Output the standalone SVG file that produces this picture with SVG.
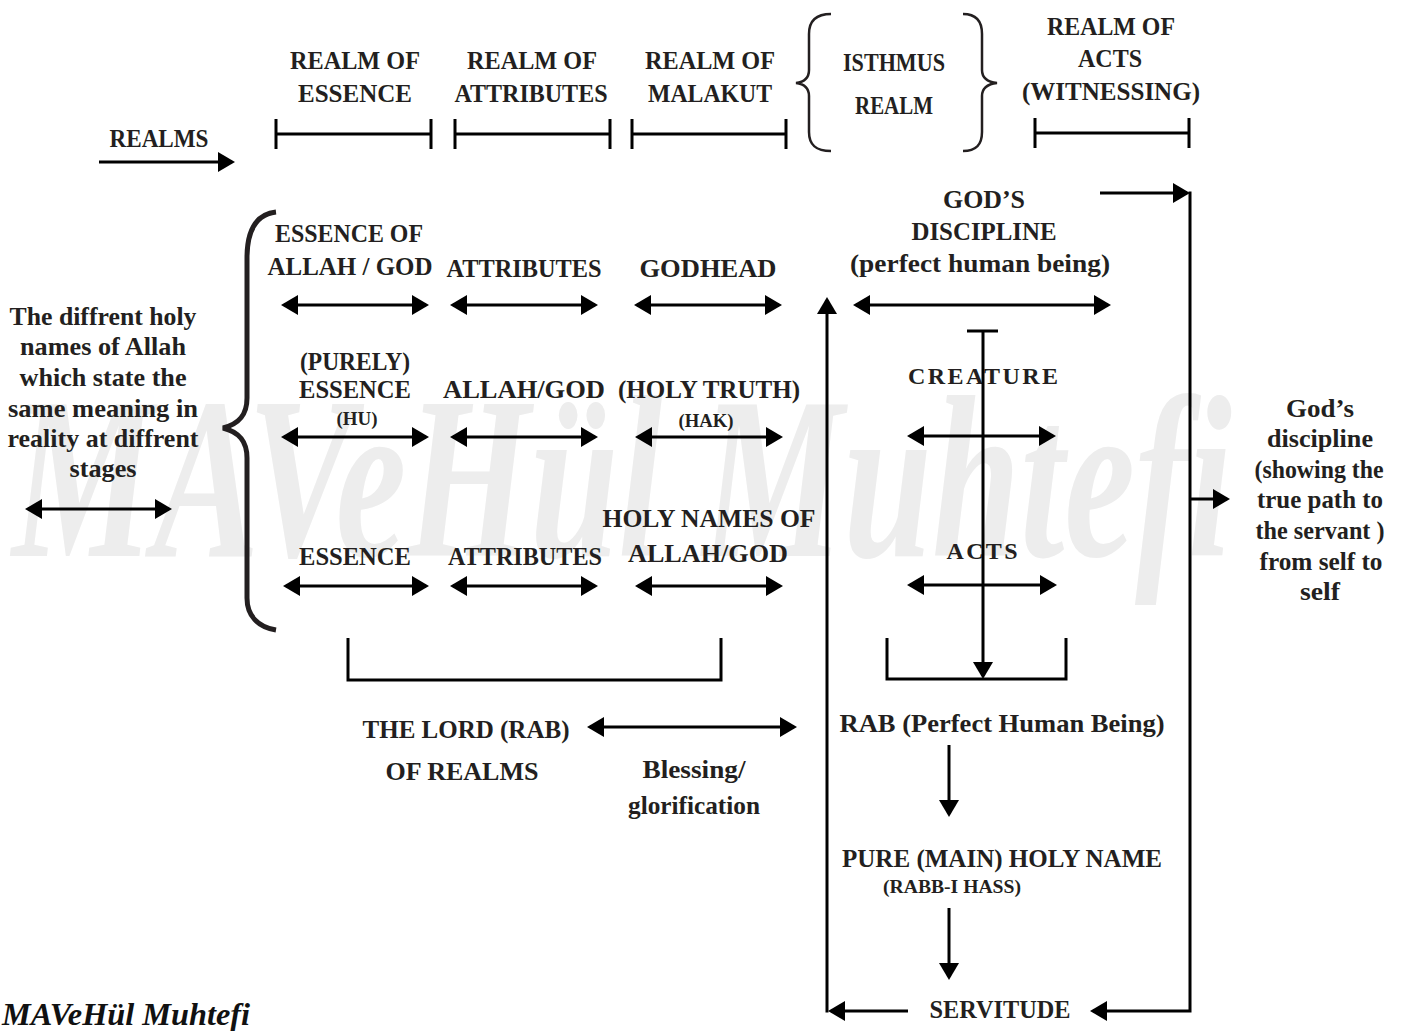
<svg xmlns="http://www.w3.org/2000/svg" width="1410" height="1031" viewBox="0 0 1410 1031">
<style>
.t{font-family:"Liberation Serif",serif;font-weight:bold;fill:#231f20;font-size:26px;text-anchor:middle}
.sm{font-size:19px}
.ln{stroke:#000;stroke-width:3;fill:none}
.ar{stroke:#000;stroke-width:3;fill:none;marker-end:url(#ah)}
.da{stroke:#000;stroke-width:3;fill:none;marker-start:url(#ah);marker-end:url(#ah)}
.wm{font-family:"Liberation Serif",serif;font-style:italic;font-weight:bold}
</style>
<defs>
<marker id="ah" markerUnits="userSpaceOnUse" viewBox="0 0 17 20" markerWidth="17" markerHeight="20" refX="14" refY="10" orient="auto-start-reverse">
<path d="M0,0 L17,10 L0,20 z" fill="#000"/>
</marker>
</defs>
<rect width="1410" height="1031" fill="#fff"/>
<text class="wm" x="12" y="556" font-size="230" fill="#ededed" textLength="1220" lengthAdjust="spacingAndGlyphs">MAVeHül Muhtefi</text>

<g id="realms-label">
<text class="t" x="159" y="147" textLength="99" lengthAdjust="spacingAndGlyphs">REALMS</text>
</g>
<g id="realm-essence">
<text class="t" x="355" y="69" textLength="130" lengthAdjust="spacingAndGlyphs">REALM OF</text>
<text class="t" x="355" y="102" textLength="114" lengthAdjust="spacingAndGlyphs">ESSENCE</text>
<path class="ln" d="M276,119 V149 M276,134 H431 M431,119 V149"/>
</g>
<g id="realm-attributes">
<text class="t" x="532" y="69" textLength="130" lengthAdjust="spacingAndGlyphs">REALM OF</text>
<text class="t" x="531" y="102" textLength="153" lengthAdjust="spacingAndGlyphs">ATTRIBUTES</text>
<path class="ln" d="M455,119 V149 M455,134 H610 M610,119 V149"/>
</g>
<g id="realm-malakut">
<text class="t" x="710" y="69" textLength="130" lengthAdjust="spacingAndGlyphs">REALM OF</text>
<text class="t" x="710" y="102" textLength="124" lengthAdjust="spacingAndGlyphs">MALAKUT</text>
<path class="ln" d="M632,119 V149 M632,134 H786 M786,119 V149"/>
</g>
<g id="realm-isthmus">
<path d="M831,14 C816,14 809,21 809,34 L809,70 C809,78 804,82 796,83 C804,84 809,88 809,96 L809,132 C809,145 816,151 831,151" stroke="#231f20" stroke-width="2.5" fill="none"/>
<text class="t" x="894" y="71" style="font-size:25px" textLength="102" lengthAdjust="spacingAndGlyphs">ISTHMUS</text>
<text class="t" x="894" y="114" style="font-size:25px" textLength="78" lengthAdjust="spacingAndGlyphs">REALM</text>
<path d="M963,14 C976,14 982,21 982,34 L982,70 C982,78 988,82 997,83 C988,84 982,88 982,96 L982,132 C982,145 976,151 963,151" stroke="#231f20" stroke-width="2.5" fill="none"/>
</g>
<g id="realm-acts">
<text class="t" x="1111" y="35" textLength="128" lengthAdjust="spacingAndGlyphs">REALM OF</text>
<text class="t" x="1110" y="67" textLength="64" lengthAdjust="spacingAndGlyphs">ACTS</text>
<text class="t" x="1111" y="100" textLength="178" lengthAdjust="spacingAndGlyphs">(WITNESSING)</text>
<path class="ln" d="M1035,118 V148 M1035,133 H1189 M1189,118 V148"/>
</g>

<g id="left-label">
<text class="t" x="103" y="325" textLength="187" lengthAdjust="spacingAndGlyphs">The diffrent holy</text>
<text class="t" x="103" y="355" textLength="166" lengthAdjust="spacingAndGlyphs">names of Allah</text>
<text class="t" x="103" y="386" textLength="167" lengthAdjust="spacingAndGlyphs">which state the</text>
<text class="t" x="103" y="417" textLength="190" lengthAdjust="spacingAndGlyphs">same meaning in</text>
<text class="t" x="103" y="447" textLength="191" lengthAdjust="spacingAndGlyphs">reality at diffrent</text>
<text class="t" x="103" y="477" textLength="67" lengthAdjust="spacingAndGlyphs">stages</text>
</g>
<g id="big-brace">
<path d="M276,212 C258,214 247,228 247,258 L247,398 C247,415 239,424 223,428 C239,432 247,441 247,458 L247,598 C247,616 258,627 276,630" stroke="#231f20" stroke-width="5" fill="none"/>
</g>

<g id="row1">
<text class="t" x="349" y="242" textLength="148" lengthAdjust="spacingAndGlyphs">ESSENCE OF</text>
<text class="t" x="350" y="275" textLength="165" lengthAdjust="spacingAndGlyphs">ALLAH / GOD</text>
<text class="t" x="524" y="277" textLength="155" lengthAdjust="spacingAndGlyphs">ATTRIBUTES</text>
<text class="t" x="708" y="277" textLength="137" lengthAdjust="spacingAndGlyphs">GODHEAD</text>
</g>
<g id="gods-discipline">
<text class="t" x="984" y="208" textLength="82" lengthAdjust="spacingAndGlyphs">GOD’S</text>
<text class="t" x="984" y="240" textLength="145" lengthAdjust="spacingAndGlyphs">DISCIPLINE</text>
<text class="t" x="980" y="272" textLength="260" lengthAdjust="spacingAndGlyphs">(perfect human being)</text>
</g>
<g id="row2">
<text class="t" x="355" y="370" textLength="110" lengthAdjust="spacingAndGlyphs">(PURELY)</text>
<text class="t" x="355" y="398" textLength="112" lengthAdjust="spacingAndGlyphs">ESSENCE</text>
<text class="t sm" x="357" y="425" textLength="41" lengthAdjust="spacingAndGlyphs">(HU)</text>
<text class="t" x="524" y="398" textLength="162" lengthAdjust="spacingAndGlyphs">ALLAH/GOD</text>
<text class="t" x="709" y="398" textLength="182" lengthAdjust="spacingAndGlyphs">(HOLY TRUTH)</text>
<text class="t sm" x="706" y="427" textLength="55" lengthAdjust="spacingAndGlyphs">(HAK)</text>
</g>
<g id="creature">
<text class="t" x="983" y="384" style="font-size:24px" textLength="150" lengthAdjust="spacing">CREATURE</text>
</g>
<g id="row3">
<text class="t" x="355" y="565" textLength="112" lengthAdjust="spacingAndGlyphs">ESSENCE</text>
<text class="t" x="525" y="565" textLength="154" lengthAdjust="spacingAndGlyphs">ATTRIBUTES</text>
<text class="t" x="709" y="527" textLength="213" lengthAdjust="spacingAndGlyphs">HOLY NAMES OF</text>
<text class="t" x="708" y="562" textLength="160" lengthAdjust="spacingAndGlyphs">ALLAH/GOD</text>
</g>
<g id="acts">
<text class="t" x="982" y="559" style="font-size:24px" textLength="71" lengthAdjust="spacing">ACTS</text>
</g>
<g id="right-label">
<text class="t" x="1320" y="417" textLength="68" lengthAdjust="spacingAndGlyphs">God’s</text>
<text class="t" x="1320" y="447" textLength="106" lengthAdjust="spacingAndGlyphs">discipline</text>
<text class="t" x="1319" y="478" textLength="129" lengthAdjust="spacingAndGlyphs">(showing the</text>
<text class="t" x="1320" y="508" textLength="126" lengthAdjust="spacingAndGlyphs">true path to</text>
<text class="t" x="1320" y="539" textLength="129" lengthAdjust="spacingAndGlyphs">the servant )</text>
<text class="t" x="1321" y="570" textLength="123" lengthAdjust="spacingAndGlyphs">from self to</text>
<text class="t" x="1320" y="600" textLength="40" lengthAdjust="spacingAndGlyphs">self</text>
</g>
<g id="lord">
<text class="t" x="466" y="738" textLength="207" lengthAdjust="spacingAndGlyphs">THE LORD (RAB)</text>
<text class="t" x="462" y="780" textLength="153" lengthAdjust="spacingAndGlyphs">OF REALMS</text>
</g>
<g id="blessing">
<text class="t" x="694" y="778" textLength="103" lengthAdjust="spacingAndGlyphs">Blessing/</text>
<text class="t" x="694" y="814" textLength="132" lengthAdjust="spacingAndGlyphs">glorification</text>
</g>
<g id="rab">
<text class="t" x="1002" y="732" textLength="325" lengthAdjust="spacingAndGlyphs">RAB (Perfect Human Being)</text>
</g>
<g id="pure-name">
<text class="t" x="1002" y="867" textLength="320" lengthAdjust="spacingAndGlyphs">PURE (MAIN) HOLY NAME</text>
<text class="t sm" x="952" y="893" textLength="138" lengthAdjust="spacingAndGlyphs">(RABB-I HASS)</text>
</g>
<g id="servitude">
<text class="t" x="1000" y="1018" textLength="141" lengthAdjust="spacingAndGlyphs">SERVITUDE</text>
</g>
<g id="signature">
<text class="wm" x="2" y="1025" font-size="32" fill="#111" textLength="248" lengthAdjust="spacingAndGlyphs">MAVeHül Muhtefi</text>
</g>

<g id="connectors">
<path class="ar" d="M99,162 H232"/>
<path class="da" d="M284,305 H426"/>
<path class="da" d="M453,305 H595"/>
<path class="da" d="M637,305 H779"/>
<path class="da" d="M856,305 H1108"/>
<path class="da" d="M284,437 H426"/>
<path class="da" d="M453,437 H595"/>
<path class="da" d="M638,437 H780"/>
<path class="da" d="M910,436 H1053"/>
<path class="da" d="M286,586 H426"/>
<path class="da" d="M453,586 H595"/>
<path class="da" d="M638,586 H780"/>
<path class="da" d="M910,585 H1054"/>
<path class="da" d="M28,509 H169"/>
<path class="da" d="M590,727 H794"/>
<path class="ln" d="M348,638 V680 H721 V638"/>
<path class="ln" d="M887,638 V679 H1066 V638"/>
<path class="ln" d="M967,331 H998"/>
<path class="ar" d="M983,331 V676"/>
<path class="ar" d="M1100,193 H1187"/>
<path class="ar" d="M1190,191.5 V1011 H1093"/>
<path class="ar" d="M1190,499 H1227"/>
<path class="ar" d="M827,1012.5 V300"/>
<path class="ar" d="M908,1011 H831"/>
<path class="ar" d="M949,745 V814"/>
<path class="ar" d="M949,908 V977"/>
</g>
</svg>
